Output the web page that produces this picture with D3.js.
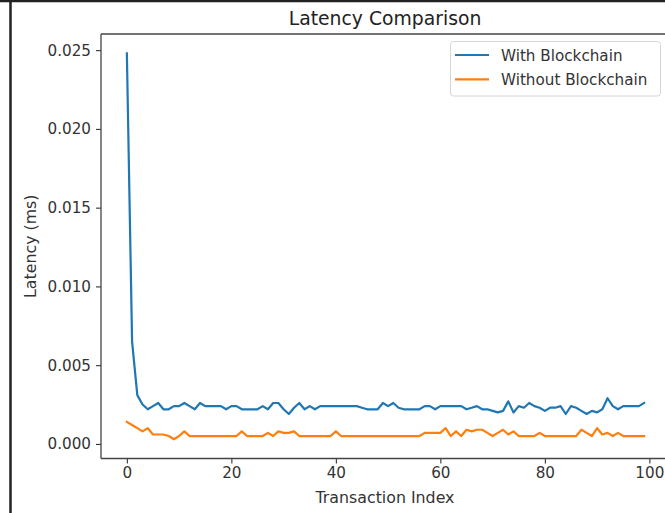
<!DOCTYPE html>
<html>
<head>
<meta charset="utf-8">
<script src="https://cdn.jsdelivr.net/npm/d3@7"></script>
<style>
  html, body { margin: 0; padding: 0; background: #fff; }
  svg { display: block; font-family: "DejaVu Sans", sans-serif; }
</style>
</head>
<body>
<svg id="chart" width="665" height="513"></svg>
<script>
// Latency per transaction, in ms
const withBlockchain = [
  0.0248, 0.0065, 0.0031, 0.0025, 0.0022, 0.0024, 0.0026, 0.0022, 0.0022, 0.0024,
  0.0024, 0.0026, 0.0024, 0.0022, 0.0026, 0.0024, 0.0024, 0.0024, 0.0024, 0.0022,
  0.0024, 0.0024, 0.0022, 0.0022, 0.0022, 0.0022, 0.0024, 0.0022, 0.0026, 0.0026,
  0.0022, 0.0019, 0.0023, 0.0026, 0.0022, 0.0024, 0.0022, 0.0024, 0.0024, 0.0024,
  0.0024, 0.0024, 0.0024, 0.0024, 0.0024, 0.0023, 0.0022, 0.0022, 0.0022, 0.0026,
  0.0024, 0.0026, 0.0023, 0.0022, 0.0022, 0.0022, 0.0022, 0.0024, 0.0024, 0.0022,
  0.0024, 0.0024, 0.0024, 0.0024, 0.0024, 0.0022, 0.0023, 0.0024, 0.0022, 0.0022,
  0.0021, 0.0020, 0.0021, 0.0027, 0.0020, 0.0024, 0.0023, 0.0026, 0.0024, 0.0023,
  0.0021, 0.0023, 0.0023, 0.0024, 0.0019, 0.0024, 0.0023, 0.0021, 0.0019, 0.0021,
  0.0020, 0.0022, 0.0029, 0.0024, 0.0022, 0.0024, 0.0024, 0.0024, 0.0024, 0.0026
];
const withoutBlockchain = [
  0.0014, 0.0012, 0.0010, 0.0008, 0.0010, 0.0006, 0.0006, 0.0006, 0.0005, 0.0003,
  0.0005, 0.0008, 0.0005, 0.0005, 0.0005, 0.0005, 0.0005, 0.0005, 0.0005, 0.0005,
  0.0005, 0.0005, 0.0008, 0.0005, 0.0005, 0.0005, 0.0005, 0.0007, 0.0005, 0.0008,
  0.0007, 0.0007, 0.0008, 0.0005, 0.0005, 0.0005, 0.0005, 0.0005, 0.0005, 0.0005,
  0.0008, 0.0005, 0.0005, 0.0005, 0.0005, 0.0005, 0.0005, 0.0005, 0.0005, 0.0005,
  0.0005, 0.0005, 0.0005, 0.0005, 0.0005, 0.0005, 0.0005, 0.0007, 0.0007, 0.0007,
  0.0007, 0.0010, 0.0005, 0.0008, 0.0005, 0.0009, 0.0008, 0.0009, 0.0009, 0.0007,
  0.0005, 0.0007, 0.0009, 0.0006, 0.0008, 0.0005, 0.0005, 0.0005, 0.0005, 0.0007,
  0.0005, 0.0005, 0.0005, 0.0005, 0.0005, 0.0005, 0.0005, 0.0009, 0.0007, 0.0005,
  0.0010, 0.0006, 0.0007, 0.0005, 0.0007, 0.0005, 0.0005, 0.0005, 0.0005, 0.0005
];
const seriesNames = ["With Blockchain", "Without Blockchain"];
const seriesColors = ["#1f77b4", "#ff7f0e"];
const xTicks = [0, 20, 40, 60, 80, 100];
const yTicks = [0.000, 0.005, 0.010, 0.015, 0.020, 0.025];

const svg = d3.select("#chart");

// Plot area (right edge runs slightly past the canvas)
const plot = { left: 101, top: 34, right: 670, bottom: 458.5 };

// Outer frame lines along the left and top edges
svg.append("line").attr("x1", 10.5).attr("x2", 10.5).attr("y1", 0).attr("y2", 513)
  .attr("stroke", "#222").attr("stroke-width", 2.5);
svg.append("line").attr("x1", 0).attr("x2", 665).attr("y1", 1).attr("y2", 1)
  .attr("stroke", "#222").attr("stroke-width", 2.5);

const n = withBlockchain.length;
const xPad = (n - 1) * 0.05;
const x = d3.scaleLinear().domain([-xPad, n - 1 + xPad]).range([plot.left, plot.right]);

const allVals = withBlockchain.concat(withoutBlockchain);
const [yMin, yMax] = d3.extent(allVals);
const yPad = (yMax - yMin) * 0.05;
const y = d3.scaleLinear().domain([yMin - yPad, yMax + yPad]).range([plot.bottom, plot.top]);

const tickColor = "#333";
const tickFont = 15.2;
const labelFont = 15.8;

// Axes
const xAxis = svg.append("g")
  .attr("transform", `translate(0,${plot.bottom})`)
  .call(d3.axisBottom(x).tickValues(xTicks).tickFormat(d3.format("d")).tickSizeOuter(0).tickSize(5).tickPadding(4));
const yAxis = svg.append("g")
  .attr("transform", `translate(${plot.left},0)`)
  .call(d3.axisLeft(y).tickValues(yTicks).tickFormat(d3.format(".3f")).tickSizeOuter(0).tickSize(5).tickPadding(5));

[xAxis, yAxis].forEach(g => {
  g.select(".domain").remove();
  g.selectAll(".tick line").attr("stroke", tickColor).attr("stroke-width", 1.1);
  g.selectAll(".tick text").attr("fill", "#333").attr("font-size", tickFont)
    .attr("font-family", "DejaVu Sans, sans-serif");
});

// Lines
const line = d3.line().x((d, i) => x(i)).y(d => y(d));
[withBlockchain, withoutBlockchain].forEach((vals, k) => {
  svg.append("path")
    .datum(vals)
    .attr("fill", "none")
    .attr("stroke", seriesColors[k])
    .attr("stroke-width", 2.2)
    .attr("stroke-linejoin", "round")
    .attr("stroke-linecap", "square")
    .attr("d", line);
});

// Spines (left, bottom, top)
const spine = svg.append("g").attr("stroke", "#444").attr("stroke-width", 1.3).attr("fill", "none");
spine.append("line").attr("x1", plot.left).attr("x2", plot.left).attr("y1", plot.top).attr("y2", plot.bottom);
spine.append("line").attr("x1", plot.left).attr("x2", plot.right).attr("y1", plot.bottom).attr("y2", plot.bottom);
spine.append("line").attr("x1", plot.left).attr("x2", plot.right).attr("y1", plot.top).attr("y2", plot.top);

// Title and axis labels
svg.append("text").attr("x", 385).attr("y", 25)
  .attr("text-anchor", "middle").attr("font-size", 18.8).attr("fill", "#222")
  .text("Latency Comparison");
svg.append("text").attr("x", 385).attr("y", 503)
  .attr("text-anchor", "middle").attr("font-size", labelFont).attr("fill", "#333")
  .text("Transaction Index");
svg.append("text")
  .attr("transform", `translate(36,${(plot.top + plot.bottom) / 2}) rotate(-90)`)
  .attr("text-anchor", "middle").attr("font-size", labelFont).attr("fill", "#333")
  .text("Latency (ms)");

// Legend
const legend = svg.append("g");
legend.append("rect").attr("x", 450.5).attr("y", 41.5).attr("width", 210).attr("height", 54.5)
  .attr("rx", 3).attr("fill", "#fff").attr("fill-opacity", 0.8)
  .attr("stroke", "#d6d6d6").attr("stroke-width", 1);
seriesNames.forEach((name, k) => {
  const ly = 55 + k * 24.3;
  legend.append("line").attr("x1", 455).attr("x2", 489).attr("y1", ly).attr("y2", ly)
    .attr("stroke", seriesColors[k]).attr("stroke-width", 2.2);
  legend.append("text").attr("x", 501).attr("y", ly + 5.5).attr("font-size", 15.2).attr("fill", "#333")
    .text(name);
});
</script>
</body>
</html>
